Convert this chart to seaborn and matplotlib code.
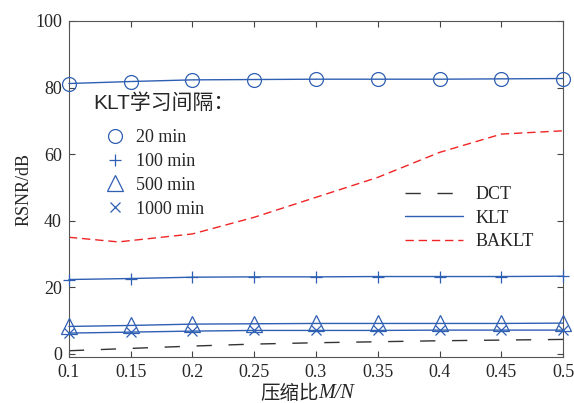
import numpy as np
import seaborn as sns
import matplotlib.pyplot as plt
from matplotlib.lines import Line2D

# data
ratio = [0.1, 0.15, 0.2, 0.25, 0.3, 0.35, 0.4, 0.45, 0.5]
klt_20 = [81.2, 81.8, 82.3, 82.4, 82.5, 82.5, 82.5, 82.6, 82.7]
klt_100 = [22.3, 22.6, 23.0, 23.1, 23.1, 23.2, 23.2, 23.2, 23.3]
klt_500 = [8.2, 8.5, 8.9, 9.0, 9.1, 9.1, 9.1, 9.1, 9.2]
klt_1000 = [6.2, 6.5, 6.8, 7.0, 7.0, 7.0, 7.1, 7.1, 7.1]
dct = [0.9, 1.6, 2.3, 2.9, 3.3, 3.6, 3.9, 4.1, 4.3]
baklt_x = [0.1, 0.14, 0.2, 0.25, 0.3, 0.35, 0.4, 0.45, 0.5]
baklt = [35.0, 33.6, 36.0, 41.0, 47.0, 53.0, 60.5, 66.0, 67.0]

interval_labels = ['20 min', '100 min', '500 min', '1000 min']
method_labels = ['DCT', 'KLT', 'BAKLT']

sns.set_style('ticks')
plt.rcParams['font.family'] = ['Liberation Serif', 'Noto Sans CJK SC']

blue = '#2f5fb3'
red = '#f02424'
dct_ls = (0, (11, 12))
baklt_ls = (0, (6, 3.5))

fig = plt.figure(figsize=(5.74, 4.03), dpi=100)
ax = fig.add_axes([0.120, 0.114, 0.861, 0.834])

klt_series = [klt_20, klt_100, klt_500, klt_1000]
markers = ['o', '+', '^', 'x']
msizes = [10, 9, 11, 7]
for vals, m, s in zip(klt_series, markers, msizes):
    sns.lineplot(x=ratio, y=vals, ax=ax, color=blue, lw=1.0, marker=m, ms=s,
                 markerfacecolor='none', markeredgecolor=blue, mew=0.9,
                 clip_on=False, zorder=3)

sns.lineplot(x=ratio, y=dct, ax=ax, color='#333333', lw=1.0, linestyle=dct_ls)
sns.lineplot(x=baklt_x, y=baklt, ax=ax, color=red, lw=1.0, linestyle=baklt_ls)

ax.set_xlim(0.1, 0.5)
ax.set_ylim(-1, 100)
ax.set_xticks(ratio)
ax.set_xticklabels(['0.1', '0.15', '0.2', '0.25', '0.3', '0.35', '0.4', '0.45', '0.5'])
ax.set_yticks([0, 20, 40, 60, 80, 100])
ax.tick_params(direction='in', top=True, right=True, labelsize=13, length=4,
               color='#444444', pad=5)
for sp in ax.spines.values():
    sp.set_visible(True)
    sp.set_color('#555555')
    sp.set_linewidth(0.8)

ax.set_ylabel('RSNR/dB', fontsize=13, labelpad=2)
# x label: Chinese part plus italic M/N
t1 = ax.text(0.505, -0.078, '压缩比', transform=ax.transAxes, fontsize=14,
             ha='right', va='top', family=['Noto Sans CJK SC'])
ax.annotate('M/N', xy=(1, 0.08), xycoords=t1, va='bottom', ha='left',
            fontsize=14.5, style='italic', family='Liberation Serif')

# marker legend
h1 = [Line2D([], [], ls='none', marker=m, ms=s, color=blue,
             markerfacecolor='none', mew=0.9) for m, s in zip(markers, msizes)]
leg1 = ax.legend(h1, interval_labels, loc='upper left',
                 bbox_to_anchor=(0.057, 0.70), frameon=False, fontsize=13,
                 handlelength=1.2, handletextpad=0.55, labelspacing=0.38,
                 borderaxespad=0)
ax.add_artist(leg1)
ax.text(0.05, 0.755, 'KLT学习间隔：', transform=ax.transAxes, fontsize=15,
        family=['Liberation Sans', 'Noto Sans CJK SC'], va='center')

# method legend
h2 = [Line2D([], [], color='#333333', lw=1.0, ls=dct_ls),
      Line2D([], [], color=blue, lw=1.0),
      Line2D([], [], color=red, lw=1.0, ls=baklt_ls)]
ax.legend(h2, method_labels, loc='upper left', bbox_to_anchor=(0.665, 0.53),
          frameon=False, fontsize=13, handlelength=3.2, handletextpad=0.7,
          labelspacing=0.36, borderaxespad=0)

fig.savefig('out.png', dpi=100)
